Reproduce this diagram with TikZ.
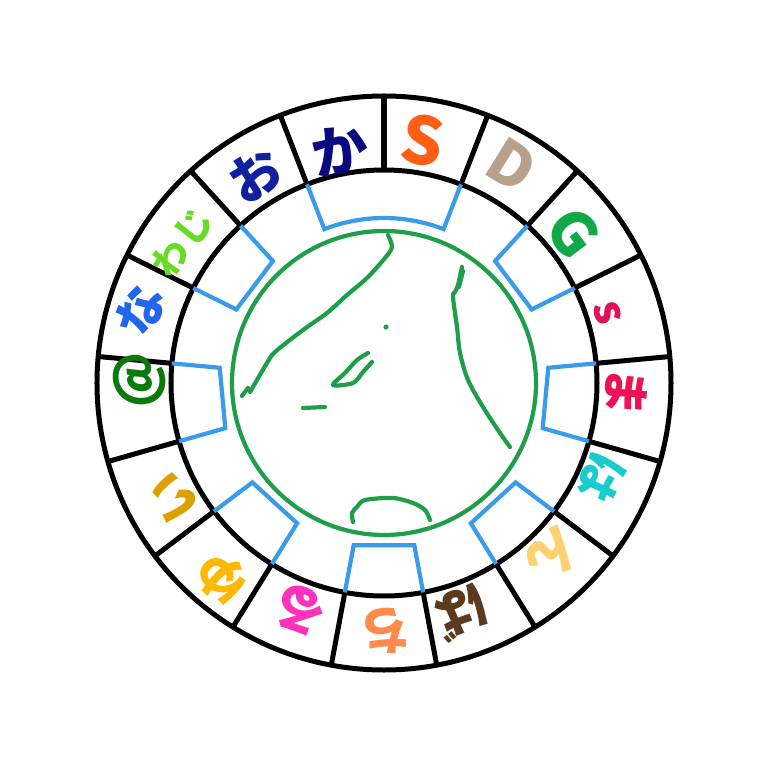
\documentclass[tikz,border=0pt]{standalone}
\usepackage{fontspec}
\newfontfamily\jp{Noto Sans CJK JP}
\definecolor{bracketblue}{HTML}{3A9BEA}
\definecolor{globegreen}{HTML}{1E9E48}
\definecolor{cS}{HTML}{FF5F15}
\definecolor{cD}{HTML}{B9A08A}
\definecolor{cG}{HTML}{12A84A}
\definecolor{cs}{HTML}{E0105A}
\definecolor{cma}{HTML}{EE1155}
\definecolor{cha}{HTML}{19CCCC}
\definecolor{cn}{HTML}{FFD070}
\definecolor{cba}{HTML}{5C3A1E}
\definecolor{cchi}{HTML}{FF8A4C}
\definecolor{cru}{HTML}{FF33BB}
\definecolor{cyu}{HTML}{FFB800}
\definecolor{ci}{HTML}{DDA000}
\definecolor{cat}{HTML}{0A7A0A}
\definecolor{cna}{HTML}{2266EE}
\definecolor{cwa}{HTML}{66DD22}
\definecolor{co}{HTML}{1020A0}
\definecolor{cka}{HTML}{0A0A80}
\tikzset{
  ring/.style={line width=5pt, draw=black},
  bracket/.style={line width=4.2pt, draw=bracketblue},
  globe/.style={line width=4.2pt, draw=globegreen},
  scribble/.style={line width=4.2pt, draw=globegreen, line cap=round, line join=round},
  glyph/.style={inner sep=0pt, font=\jp\bfseries},
}
\newcommand{\gsize}[1]{\fontsize{#1}{#1}\selectfont}
\begin{document}
\begin{tikzpicture}[x=1pt,y=1pt]
\useasboundingbox (-384,-385) rectangle (384,383);
\fill[white] (-384,-385) rectangle (384,383);
\coordinate (c) at (0,0);
% rings
\draw[ring] (c) circle (287);
\draw[ring] (c) circle (213);
\foreach \k in {0,...,16}{
  \pgfmathsetmacro\ang{90-\k*360/17}
  \draw[ring] (\ang:213) -- (\ang:287);
}
% blue brackets
\foreach \i in {2,4,...,14}{
  \pgfmathsetmacro\aa{90-\i*360/17}
  \pgfmathsetmacro\bb{90-(\i+1)*360/17}
  \draw[bracket] (\aa:213) -- (\aa:165) -- (\bb:165) -- (\bb:213);
}
\draw[bracket] (111.18:213) -- (111.18:165) arc[start angle=111.18, end angle=68.82, radius=165] -- (68.82:213);
% globe
\draw[globe] (c) circle (152);
\draw[scribble] plot[smooth] coordinates {(4,148) (8,136) (1,125) (-17,105) (-37,88) (-57,70) (-81,53) (-109,31) (-117,20) (-127,3) (-134,-9)};
\draw[scribble] (-142,-13) -- (-136,-5);
\draw[scribble] plot[smooth] coordinates {(78,116) (74,98) (71,91) (69,86) (73,56) (76,30) (84,3) (99,-24) (116,-50) (126,-64)};
\draw[scribble] (79,112) -- (75,96);
\fill[globegreen] (2,56) circle (2.6);
\draw[scribble] plot[smooth] coordinates {(-16,30) (-27,23) (-39,10) (-51,-2) (-31,0) (-21,11) (-12,21)};
\draw[scribble] (-81,-25) -- (-59,-24);
\draw[scribble] plot[smooth] coordinates {(-31,-139) (-32,-130) (-27,-124) (-19,-117) (9,-115) (29,-120) (41,-127) (46,-137)};
% glyphs
\node[glyph, text=cS, rotate=-10.6] (g0) at (39,243) {\gsize{66}S};
\node[glyph, text=cD, rotate=-31.8] (g1) at (128,218) {\gsize{60}D};
\node[glyph, text=cG, rotate=-52.9] (g2) at (190,150) {\gsize{60}G};
\node[glyph, text=cs, rotate=-74.1] (g3) at (224,70) {\gsize{44}s};
\node[glyph, text=cma, rotate=-95.3] (g4) at (242,-9) {\gsize{48}ま};
\node[glyph, text=cha, rotate=-116.5] (g5) at (218,-95) {\gsize{48}は};
\node[glyph, text=cn, rotate=-137.6] (g6) at (169,-172) {\gsize{52}ん};
\node[glyph, text=cba, rotate=-158.8] (g7) at (78,-230) {\gsize{52}ば};
\node[glyph, text=cchi, rotate=180] (g8) at (1,-247) {\gsize{52}ち};
\node[glyph, text=cru, rotate=158.8] (g9) at (-84,-227) {\gsize{54}る};
\node[glyph, text=cyu, rotate=137.6] (g10) at (-162,-195) {\gsize{52}ゆ};
\node[glyph, text=ci, rotate=116.5] (g11) at (-209,-114) {\gsize{50}い};
\node[glyph, text=cat, rotate=95.3] (g12) at (-244,3) {\gsize{54}@};
\node[glyph, text=cna, rotate=74.1] (g13) at (-244,73) {\gsize{50}な};
\node[glyph, text=cwa, rotate=52.9] (g14) at (-202,140) {\gsize{36}わ\kern3ptじ};
\node[glyph, text=co, rotate=31.8] (g15) at (-129,208) {\gsize{52}お};
\node[glyph, text=cka, rotate=10.6] (g16) at (-44,233) {\gsize{56}か};
\end{tikzpicture}
\end{document}
